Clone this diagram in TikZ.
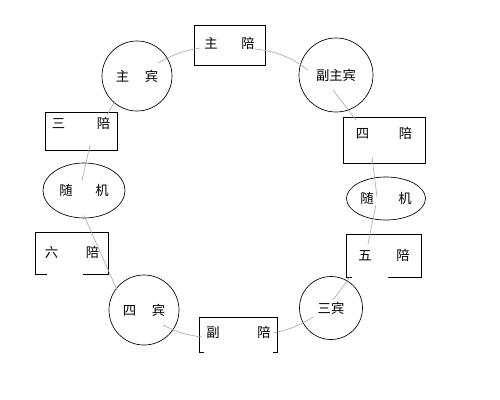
\documentclass[tikz,border=0pt]{standalone}
\usepackage{fontspec}
\newfontfamily\cjk{Noto Sans CJK SC}
\usetikzlibrary{shapes.geometric, calc}

\begin{document}
\begin{tikzpicture}[x=0.75pt, y=-0.75pt, font=\cjk\fontsize{10}{12}\selectfont]
	\tikzstyle{seat} = [draw, rectangle, line width=.5pt, inner xsep=0pt, inner ysep=0pt]
	\tikzstyle{openseat} = [seat, draw=none]
	\tikzstyle{guest} = [draw, circle, line width=.5pt, inner sep=0pt]
	\tikzstyle{spare} = [draw, ellipse, line width=.5pt, inner sep=0pt]
	\tikzstyle{link} = [draw=gray!65, line width=.5pt]
	\tikzstyle{frame} = [line width=.5pt]
	
	\useasboundingbox (0,0) rectangle (500,400);
	
	\node[guest, minimum size=52.5pt] (zb) at (137,76) {主\hspace{11.8pt}宾};
	\node[seat, minimum width=53.25pt, text height=17.7pt, text depth=12.3pt] (zp) at (229.5,45) {主\hspace{17.8pt}陪};
	\node[guest, minimum size=55.5pt] (fzb) at (336,75) {副主宾};
	\node[seat, minimum width=61.5pt, text height=16.2pt, text depth=18.3pt] (sp4) at (384,140) {四\hspace{22.3pt}陪};
	\node[spare, minimum width=59.25pt, minimum height=32.25pt] (sjR) at (386,198.5) {随\hspace{18.5pt}机};
	\node[openseat, minimum width=55.5pt, text height=19.2pt, text depth=12.3pt] (wp) at (384,256) {五\hspace{18.5pt}陪};
	\node[guest, minimum size=47.25pt] (sb3) at (331,308) {三宾};
	\node[openseat, minimum width=57.75pt, text height=14.7pt, text depth=10.8pt] (fp) at (238.5,335) {副\hspace{28.3pt}陪};
	\node[guest, minimum size=52.5pt] (sb4) at (144,310) {四\hspace{11.8pt}宾};
	\node[openseat, minimum width=54pt, text height=18.45pt, text depth=12.3pt] (lp) at (72,253.5) {六\hspace{20.8pt}陪};
	\node[spare, minimum width=61.5pt, minimum height=41.25pt] (sjL) at (84,190.5) {随\hspace{17pt}机};
	\node[seat, minimum width=54pt, text height=12.45pt, text depth=16.05pt] (sp3) at (81,131) {三\hspace{23.8pt}陪};
	
	% boxes open at the bottom
	\foreach \n/\l/\r in {wp/3.75/24.75, lp/8.25/18.75, fp/3/3}
		\draw[frame] ([xshift=\l pt]\n.south west) -- (\n.south west) -- (\n.north west)
			-- (\n.north east) -- (\n.south east) -- ([xshift=-\r pt]\n.south east);
	
	\draw[link] ($(zb)+(21,-13)$) to[bend left=10] ($(zp)+(-29.5,3)$);
	\draw[link] ($(zp)+(25.5,4)$) to[bend left=15] ($(fzb)+(-28,-5)$);
	\draw[link] ($(fzb)+(-3,15)$) -- ($(sp4)+(-28,-20)$);
	\draw[link] ($(sp4)+(-12,17)$) -- ($(sjR)+(-9,-1.5)$);
	\draw[link] ($(sjR)+(-10,6)$) -- ($(wp)+(-16,-12)$);
	\draw[link] ($(wp)+(-34,21)$) -- ($(sb3)+(2,-8)$);
	\draw[link] ($(sb3)+(-18,9)$) to[bend left=10] ($(fp)+(34.5,-2)$);
	\draw[link] ($(fp)+(-36.5,2)$) to[bend left=10] ($(sb4)+(19,15)$);
	\draw[link] ($(sb4)+(-27,-20)$) -- ($(sjL)+(0,25)$);
	\draw[link] ($(sjL)+(-2,-10)$) -- ($(sp3)+(9,14)$);
	\draw[link] ($(sp3)+(26,-16)$) -- ($(zb)+(-22,25)$);
\end{tikzpicture}
\end{document}
